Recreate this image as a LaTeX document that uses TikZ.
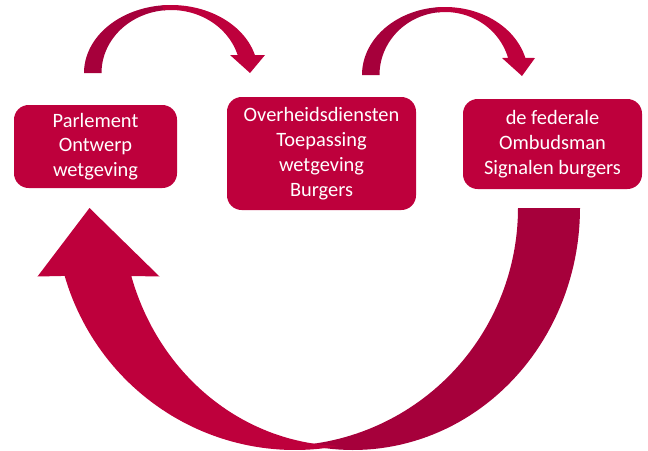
\documentclass[tikz,border=0pt]{standalone}
\usepackage{fontspec}
\setmainfont{Carlito}
\definecolor{crimson}{RGB}{190,0,60}
\definecolor{crimsondark}{RGB}{166,0,59}
\begin{document}
\begin{tikzpicture}[x=0.75pt,y=-0.75pt,
  box/.style={fill=crimson, rounded corners=11pt, text=white, align=center,
    font=\fontsize{15.3}{18.6}\selectfont, inner sep=0pt},
  litpart/.style={fill=crimson},
  darkpart/.style={fill=crimsondark},
  every plot/.style={samples=60}]
\useasboundingbox (0,0) rectangle (648,450);

% boxes
\node[box, minimum width=122.25pt, minimum height=62.25pt] (parlement) at (95.5,146.5)
  {Parlement\\Ontwerp\\wetgeving};
\node[box, minimum width=141.75pt, minimum height=84.75pt] (overheid) at (321.5,153.5)
  {Overheidsdiensten\\Toepassing\\wetgeving\\Burgers};
\node[box, minimum width=134.25pt, minimum height=67.5pt] (ombudsman) at (552.5,144)
  {de federale\\Ombudsman\\Signalen burgers};

% curved arrow: parlement -> overheid
\fill[darkpart] plot[domain=180:266] ({171+87*cos(\x)},{73+68*sin(\x)})
  -- plot[domain=266:180] ({171+69.5*cos(\x)},{73+63*sin(\x)}) -- cycle;
\fill[litpart] plot[domain=264:344.7] ({171+87*cos(\x)},{73+68*sin(\x)})
  -- (265,55) -- (250,73) -- (230,55)
  -- plot[domain=343.4:264] ({171+69.5*cos(\x)},{73+63*sin(\x)}) -- cycle;

% curved arrow: overheid -> ombudsman
\fill[darkpart] plot[domain=180:266] ({445+83*cos(\x)},{75+68*sin(\x)})
  -- plot[domain=266:180] ({445+65.5*cos(\x)},{75+63*sin(\x)}) -- cycle;
\fill[litpart] plot[domain=264:345.5] ({445+83*cos(\x)},{75+68*sin(\x)})
  -- (535,58) -- (522,76) -- (502,58)
  -- plot[domain=344.3:264] ({445+65.5*cos(\x)},{75+63*sin(\x)}) -- cycle;

% large return arrow: ombudsman -> parlement
\fill[darkpart] plot[domain=0:102.2] ({353+227*cos(\x)},{208+242*sin(\x)})
  -- plot[domain=84.2:0] ({281+237*cos(\x)},{208+238*sin(\x)}) -- cycle;
\fill[litpart] (89.5,208) -- (159.5,276.5)
  -- plot[domain=163.4:91.8] ({345+223*cos(\x)},{208+238*sin(\x)})
  -- plot[domain=79.7:163.7] ({295+240*cos(\x)},{208+242*sin(\x)})
  -- (37.5,276.5) -- cycle;
\end{tikzpicture}
\end{document}
